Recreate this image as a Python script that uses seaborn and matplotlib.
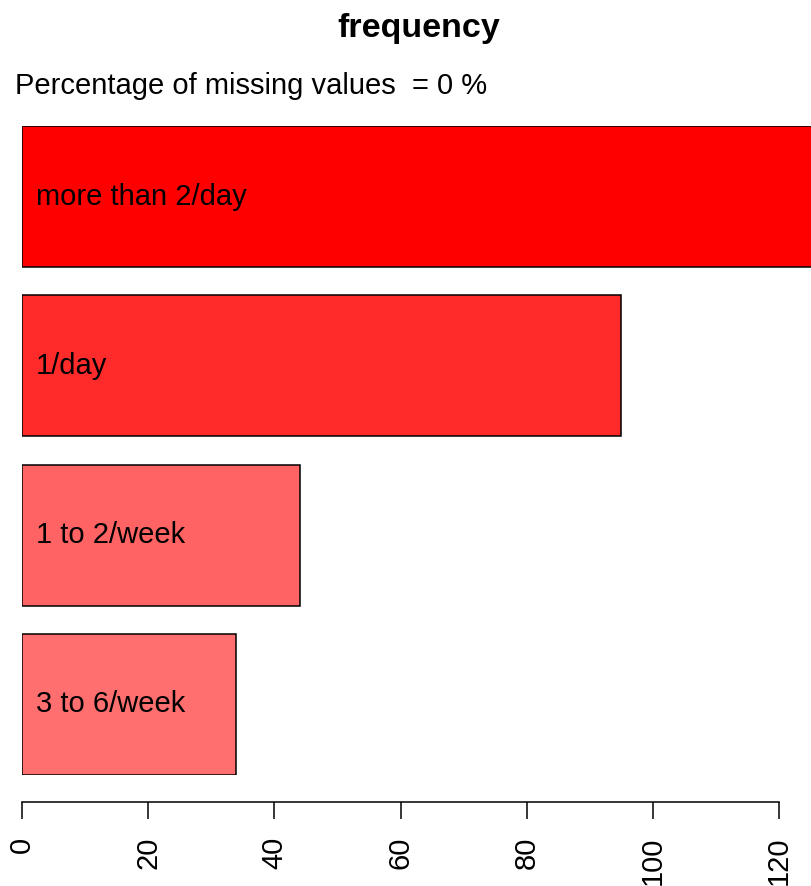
import matplotlib
matplotlib.use("Agg")
import pandas as pd
import matplotlib.pyplot as plt
import seaborn as sns

categories = ["more than 2/day", "1/day", "1 to 2/week", "3 to 6/week"]
counts = [130, 95, 44, 34]
bar_colors = ["#FF0000", "#FF2B2B", "#FF6363", "#FF6F6F"]
x_ticks = [0, 20, 40, 60, 80, 100, 120]

df = pd.DataFrame({"category": categories, "count": counts})

sns.set_style("white")
plt.rcParams["font.family"] = ["Liberation Sans", "DejaVu Sans"]

W, H = 811, 886
fig = plt.figure(figsize=(W / 100, H / 100), dpi=100)
ax = fig.add_axes([22 / W, (H - 775) / H, (W - 22) / W, 649 / H])

sns.barplot(data=df, x="count", y="category", hue="category", order=categories,
            palette=dict(zip(categories, bar_colors)), width=1 / 1.2,
            saturation=1, edgecolor="black", linewidth=1.1, legend=False, ax=ax)

ax.set_xlim(0, 120 * (W - 22) / 757)
ax.set_ylim(3 + 0.5 / 1.2, -0.5 / 1.2)

for i, name in enumerate(categories):
    ax.text(2.2, i, name, va="center", ha="left", fontsize=21, color="black")

for s in ["top", "right", "left"]:
    ax.spines[s].set_visible(False)
ax.spines["bottom"].set_position(("outward", 19.4))
ax.spines["bottom"].set_bounds(0, 120)
ax.spines["bottom"].set_linewidth(1.1)
ax.spines["bottom"].set_color("black")
ax.set_yticks([])
ax.set_xticks(x_ticks)
ax.set_xticklabels([str(t) for t in x_ticks], rotation=90, fontsize=21)
ax.tick_params(axis="x", direction="out", length=12.3, width=1.1, pad=12.5,
               bottom=True, colors="black")
ax.set_xlabel("")
ax.set_ylabel("")

fig.text(418.5 / W, 1 - 28 / H, "frequency", ha="center", va="center",
         fontsize=24.5, fontweight="bold", color="black")
fig.text(15 / W, 1 - 86 / H, "Percentage of missing values  = 0 %",
         ha="left", va="center", fontsize=21, color="black")

fig.savefig("out.png", dpi=100)
